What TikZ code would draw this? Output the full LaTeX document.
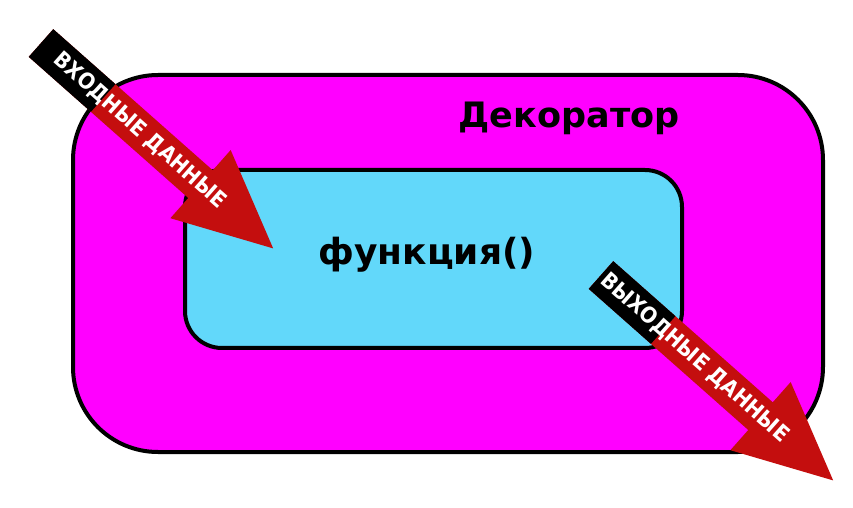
\documentclass[tikz,border=0pt]{standalone}
\usepackage{fontspec}
\setmainfont{DejaVu Sans}
\definecolor{decomagenta}{RGB}{255,0,255}
\definecolor{funccyan}{RGB}{98,216,250}
\definecolor{arrowred}{RGB}{196,14,14}
\tikzset{
  roundbox/.style={draw=black,line width=2pt,rounded corners=#1},
  boxtitle/.style={font=\bfseries\fontsize{17.5}{20}\selectfont,anchor=base,inner sep=0pt},
  arrowtext/.style={font=\bfseries\fontsize{11}{13}\selectfont,text=white,inner sep=0pt,transform shape,xscale=0.9}
}
\begin{document}
\begin{tikzpicture}[x=0.5pt,y=-0.5pt]
\useasboundingbox (0,0) rectangle (853,508);
\node[roundbox=42.5pt,fill=decomagenta,minimum width=375pt,minimum height=188.5pt] (deco) at (448,263.5) {};
\node[roundbox=18.5pt,fill=funccyan,minimum width=248.5pt,minimum height=89pt] (func) at (433.5,259) {};
\node[boxtitle] (decolabel) at (569,128) {Декоратор};
\node[boxtitle,font=\bfseries\fontsize{18}{20}\selectfont] (funclabel) at (427,265) {функция()};
\foreach \sx/\sy/\tpos/\txt in {41/43/132/ВХОДНЫЕ ДАННЫЕ,601/275/125/ВЫХОДНЫЕ ДАННЫЕ}{
  \begin{scope}[shift={(\sx,\sy)},rotate=-41.5]
    \fill[arrowred] (0,-18.5) -- (213,-18.5) -- (213,-45.5) -- (310,0) -- (213,45.5) -- (213,18.5) -- (0,18.5) -- cycle;
    \fill[black] (0,-18.5) rectangle (83,18.5);
    \node[arrowtext] at (\tpos,0) {\txt};
  \end{scope}
}
\end{tikzpicture}
\end{document}
